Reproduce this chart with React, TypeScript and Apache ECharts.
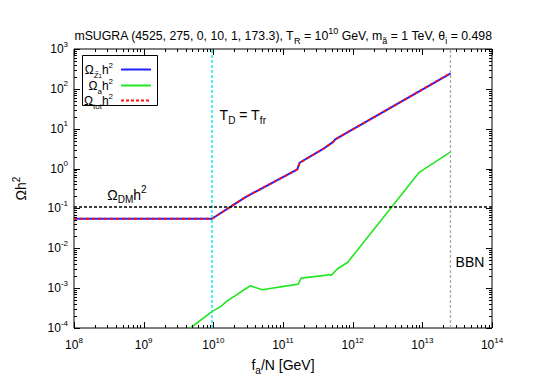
import React, { useEffect, useRef } from "react";
import * as echarts from "echarts";

// ---- data ----
const faNeutralino = [1e8, 9.55e9, 2.86e10, 1.61e11, 1.73e11, 3.72e11, 5.25e11, 5.62e11, 2.55e13];
const omegaNeutralino = [0.055, 0.055, 0.19, 0.96, 1.4, 3.06, 4.66, 5.37, 245];

const faAxion = [4.68e9, 9.55e9, 1.3e10, 1.53e10, 3.39e10, 5.01e10, 1.66e11, 1.82e11, 3.98e11, 4.57e11, 4.9e11, 6.03e11, 8.51e11, 8.91e12, 2.55e13];
const omegaAxion = [1e-4, 2.57e-4, 3.55e-4, 4.57e-4, 1.15e-3, 9.1e-4, 1.26e-3, 1.78e-3, 2.09e-3, 2.19e-3, 2.09e-3, 3.02e-3, 4.47e-3, 0.79, 2.63];

const faTotal = [1e8, 9.55e9, 2.86e10, 1.61e11, 1.73e11, 3.72e11, 5.25e11, 5.62e11, 2.55e13];
const omegaTotal = [0.055, 0.055, 0.19, 0.96, 1.4, 3.06, 4.66, 5.37, 248];

const omegaDM = 0.11;
const faDecoupling = 9.55e9;
const faBBN = 2.55e13;

const xTickValues = [1e8, 1e9, 1e10, 1e11, 1e12, 1e13, 1e14];
const yTickValues = [1e-4, 1e-3, 1e-2, 1e-1, 1e0, 1e1, 1e2, 1e3];
const minorMultipliers = [2, 3, 4, 5, 6, 7, 8, 9];

const tdLabelAnchor = [1.23e10, 22];
const omegaDMLabelAnchor = [3.0e8, 0.22];
const bbnLabelAnchor = [3.0e13, 4.6e-3];

const FONT = "'Liberation Sans', Arial, Helvetica, sans-serif";

const GRID = { left: 74, right: 53, top: 49, bottom: 54 };

function richSet(base: number) {
  const small = Math.round(base * 0.7);
  return {
    n: { fontSize: base, lineHeight: base + 6, fontFamily: FONT, color: "#000", verticalAlign: "middle" },
    sub: { fontSize: small, lineHeight: small, verticalAlign: "bottom", fontFamily: FONT, color: "#000" },
    sup: { fontSize: small, lineHeight: small, verticalAlign: "top", fontFamily: FONT, color: "#000" },
    ss: { fontSize: small - 2, lineHeight: small - 3, verticalAlign: "bottom", fontFamily: FONT, color: "#000" },
  };
}

export default function App() {
  const ref = useRef<HTMLDivElement>(null);
  useEffect(() => {
    document.body.style.margin = "0";
    const el = ref.current!;
    const chart = echarts.init(el, undefined, { renderer: "svg" });

    const tickData: number[][] = [];
    for (let e = 8; e < 14; e++) {
      for (const m of minorMultipliers) tickData.push([m * Math.pow(10, e), 1, 0, 0]);
    }
    xTickValues.forEach((v) => tickData.push([v, 1, 0, 1]));
    for (let e = -4; e < 3; e++) {
      for (const m of minorMultipliers) tickData.push([1e10, m * Math.pow(10, e), 1, 0]);
    }
    yTickValues.forEach((v) => tickData.push([1e10, v, 1, 1]));

    const expLabel = (v: number) => `{n|10}{sup|${Math.round(Math.log10(v))}}`;

    const option: any = {
      animation: false,
      backgroundColor: "#fff",
      grid: { ...GRID, show: true, borderColor: "#000", borderWidth: 1, backgroundColor: "transparent" },
      xAxis: {
        type: "log",
        logBase: 10,
        min: 1e8,
        max: 1e14,
        axisLine: { show: false },
        axisTick: { show: false },
        splitLine: { show: false },
        axisLabel: { formatter: expLabel, margin: 8, rich: richSet(12), color: "#000" },
        name: `{n|f}{sub|a}{n|/N [GeV]}`,
        nameLocation: "middle",
        nameGap: 27,
        nameTextStyle: { rich: richSet(14) },
      },
      yAxis: {
        type: "log",
        logBase: 10,
        min: 1e-4,
        max: 1e3,
        axisLine: { show: false },
        axisTick: { show: false },
        splitLine: { show: false },
        axisLabel: { formatter: expLabel, margin: 6, rich: richSet(12), color: "#000" },
        name: `{n|Ωh}{sup|2}`,
        nameLocation: "middle",
        nameRotate: 90,
        nameGap: 43,
        nameTextStyle: { rich: richSet(14) },
      },
      series: [
        {
          name: "neutralino",
          type: "line",
          data: faNeutralino.map((x, i) => [x, omegaNeutralino[i]]),
          showSymbol: false,
          lineStyle: { color: "#2020ff", width: 2 },
          z: 3,
          markLine: {
            silent: true,
            symbol: "none",
            label: { show: false },
            data: [
              { xAxis: faDecoupling, lineStyle: { color: "#18e4f2", type: [3, 2], width: 1.5 } },
              { xAxis: faBBN, lineStyle: { color: "#a8a8a8", type: [3, 2], width: 1.3 } },
              { yAxis: omegaDM, lineStyle: { color: "#000", type: [3, 2], width: 1.5 } },
            ],
          },
        },
        {
          name: "axion",
          type: "line",
          data: faAxion.map((x, i) => [x, omegaAxion[i]]),
          showSymbol: false,
          lineStyle: { color: "#22e622", width: 1.6 },
          z: 3,
        },
        {
          name: "total",
          type: "line",
          data: faTotal.map((x, i) => [x, omegaTotal[i]]),
          showSymbol: false,
          lineStyle: { color: "#ff1010", width: 2, type: [3, 3] },
          z: 4,
        },
        {
          name: "ticks",
          type: "custom",
          silent: true,
          clip: false,
          z: 10,
          encode: { x: 0, y: 1 },
          data: tickData,
          renderItem: (params: any, api: any) => {
            const cs = params.coordSys;
            const kind = api.value(2);
            const len = api.value(3) ? 6 : 3;
            const st = { stroke: "#000", lineWidth: 1 };
            if (kind === 0) {
              const px = Math.round(api.coord([api.value(0), 1])[0]) + 0.5;
              const b = cs.y + cs.height;
              return {
                type: "group",
                children: [
                  { type: "line", shape: { x1: px, y1: b, x2: px, y2: b - len }, style: st },
                  { type: "line", shape: { x1: px, y1: cs.y, x2: px, y2: cs.y + len }, style: st },
                ],
              };
            }
            const py = Math.round(api.coord([1e10, api.value(1)])[1]) + 0.5;
            const r = cs.x + cs.width;
            return {
              type: "group",
              children: [
                { type: "line", shape: { x1: cs.x, y1: py, x2: cs.x + len, y2: py }, style: st },
                { type: "line", shape: { x1: r, y1: py, x2: r - len, y2: py }, style: st },
              ],
            };
          },
        },
      ],
    };
    chart.setOption(option);

    const tdP = chart.convertToPixel({ gridIndex: 0 }, tdLabelAnchor);
    const dmP = chart.convertToPixel({ gridIndex: 0 }, omegaDMLabelAnchor);
    const bbnP = chart.convertToPixel({ gridIndex: 0 }, bbnLabelAnchor);

    const txt = (x: number, y: number, text: string, size: number, align = "left") => ({
      type: "text",
      x,
      y,
      style: {
        text,
        rich: richSet(size),
        fontSize: size,
        fontFamily: FONT,
        fill: "#000",
        align,
        verticalAlign: "middle",
        textAlign: align,
        textVerticalAlign: "middle",
      },
      z: 20,
    });

    const plotW = 545 - GRID.left - GRID.right;
    const lgX = GRID.left + 8;
    const lgY = GRID.top + 6;
    const rowY = [14, 30, 45];
    const legendEntries = [
      { text: `{n|Ω}{sub|Z\u0303}{ss|1}{n|h}{sup|2}`, color: "#2020ff", dash: null as any },
      { text: `{n|Ω}{sub|a}{n|h}{sup|2}`, color: "#22e622", dash: null as any },
      { text: `{n|Ω}{sub|tot}{n|h}{sup|2}`, color: "#ff1010", dash: [3, 2] },
    ];

    chart.setOption({
      graphic: [
        txt(
          GRID.left + plotW / 2,
          36,
          `{n|mSUGRA (4525, 275, 0, 10, 1, 173.3), T}{sub|R}{n| = 10}{sup|10}{n| GeV, m}{sub|ã}{n| = 1 TeV, θ}{sub|i}{n| = 0.498}`,
          12.3,
          "center"
        ),
        txt(tdP[0], tdP[1], `{n|T}{sub|D}{n| = T}{sub|fr}`, 14),
        txt(dmP[0], dmP[1], `{n|Ω}{sub|DM}{n|h}{sup|2}`, 14),
        txt(bbnP[0], bbnP[1], `{n|BBN}`, 14),
        {
          type: "rect",
          shape: { x: lgX + 0.5, y: lgY + 0.5, width: 75, height: 50 },
          style: { fill: "#fff", stroke: "#000", lineWidth: 1 },
          z: 15,
        },
        ...legendEntries.flatMap((e, i) => [
          txt(lgX + 31, lgY + rowY[i] + 1, e.text, 12, "right"),
          {
            type: "line",
            shape: { x1: lgX + 39, y1: lgY + rowY[i] + 0.5, x2: lgX + 69, y2: lgY + rowY[i] + 0.5 },
            style: { stroke: e.color, lineWidth: 2, lineDash: e.dash || undefined },
            z: 20,
          },
        ]),
      ],
    });

    return () => chart.dispose();
  }, []);
  return <div ref={ref} style={{ width: 545, height: 382 }} />;
}
